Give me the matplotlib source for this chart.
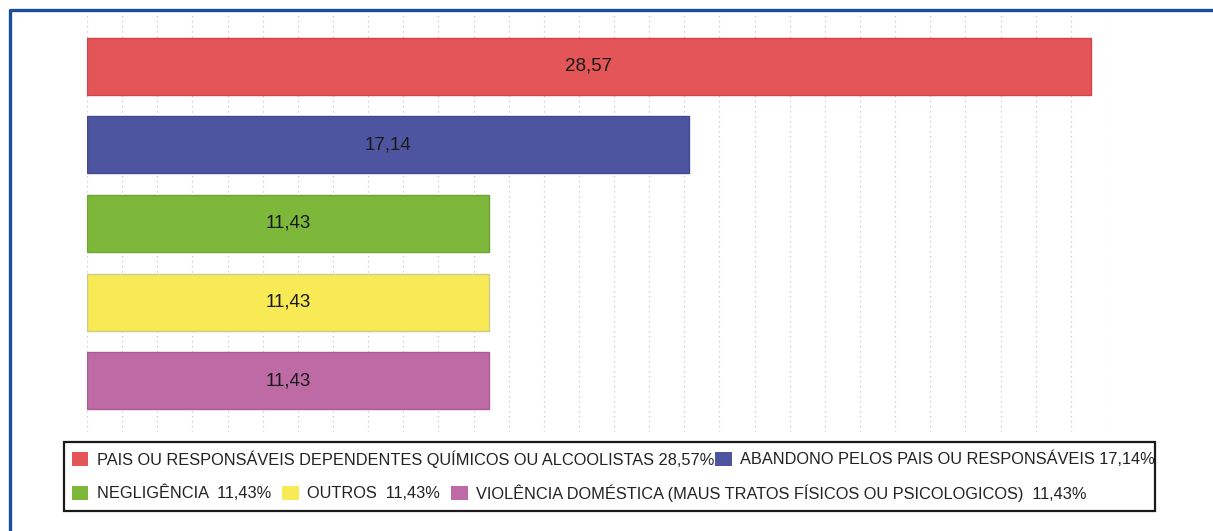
import matplotlib.pyplot as plt
import numpy as np
from matplotlib.patches import Patch, Rectangle
from matplotlib.lines import Line2D

categorias = ["PAIS OU RESPONSÁVEIS DEPENDENTES QUÍMICOS OU ALCOOLISTAS",
              "ABANDONO PELOS PAIS OU RESPONSÁVEIS",
              "NEGLIGÊNCIA",
              "OUTROS",
              "VIOLÊNCIA DOMÉSTICA (MAUS TRATOS FÍSICOS OU PSICOLOGICOS)"]
valores = [28.57, 17.14, 11.43, 11.43, 11.43]
cores = ["#E35557", "#4E55A0", "#7DB83A", "#F7EA55", "#BE6AA5"]
bordas = ["#D04448", "#434A92", "#6FA332", "#CFC98E", "#A95C94"]
separador = [" ", " ", "  ", "  ", "  "]

def fmt(v):
    return "{:.2f}".format(v).replace(".", ",")

plt.rcParams['font.family'] = ['Liberation Sans', 'DejaVu Sans']

W, H = 1213, 531
fig = plt.figure(figsize=(W / 100, H / 100), dpi=100)
ax = fig.add_axes([87 / W, 1 - 432 / H, (1106 - 87) / W, (432 - 15) / H])

y = np.arange(len(valores))
ax.barh(y, valores, height=0.725, color=cores, edgecolor=bordas, linewidth=1, zorder=2)
for yi, v in zip(y, valores):
    ax.text(v / 2, yi, fmt(v), ha="center", va="center", fontsize=13.5, color="#1a1a1a", zorder=3)

ax.set_xlim(0, 29)
ax.set_ylim(4.65, -0.65)
ax.set_xticks(range(0, 30))
ax.set_yticks([])
ax.tick_params(length=0, labelbottom=False)
ax.grid(axis="x", color="#C4C4C4", linestyle=(0, (1, 3)), linewidth=0.9, zorder=0)
for s in ax.spines.values():
    s.set_visible(False)

# moldura azul
fig.add_artist(Line2D([10 / W, 10 / W, 1.0], [0.0, 1 - 10 / H, 1 - 10 / H],
                      transform=fig.transFigure, color="#1C4F99", linewidth=2.4))

# caixa da legenda
fig.add_artist(Rectangle((64 / W, 1 - 511 / H), (1155 - 64) / W, (511 - 442) / H,
                         transform=fig.transFigure, fill=False, edgecolor="#1a1a1a", linewidth=1.6))

handles = [Patch(facecolor=c, edgecolor="none") for c in cores]
labels = [c + s + fmt(v) + "%" for c, s, v in zip(categorias, separador, valores)]

opts = dict(loc="upper left", frameon=False, borderpad=0, borderaxespad=0,
            handlelength=1.0, handleheight=1.0, handletextpad=0.5,
            fontsize=11.8, bbox_transform=fig.transFigure)
leg1 = fig.legend(handles[:2], labels[:2], ncol=2, columnspacing=0.08,
                  bbox_to_anchor=(72 / W, 1 - 450 / H), **opts)
leg2 = fig.legend(handles[2:], labels[2:], ncol=3, columnspacing=0.7,
                  bbox_to_anchor=(72 / W, 1 - 484 / H), **opts)
for leg in (leg1, leg2):
    for t in leg.get_texts():
        t.set_color("#222222")

fig.savefig("out.png", dpi=100)
